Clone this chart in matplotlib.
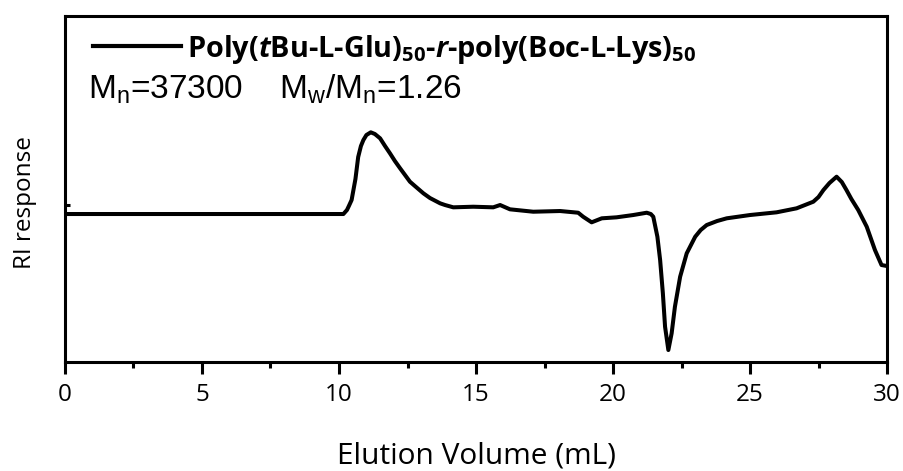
import matplotlib
matplotlib.use("Agg")
import matplotlib.pyplot as plt
from matplotlib.lines import Line2D

# GPC trace: elution volume (mL) vs. refractive-index response (arbitrary units)
elution_ml = [0.0, 5.0, 10.0, 10.16, 10.29, 10.36, 10.46, 10.6, 10.7, 10.8, 10.89,
              11.0, 11.16, 11.31, 11.5, 11.68, 11.86, 12.04, 12.23, 12.41, 12.59,
              12.77, 13.08, 13.32, 13.69, 13.87, 14.17, 14.9, 15.63, 15.88, 16.24,
              17.09, 18.07, 18.73, 18.91, 19.22, 19.59, 20.13, 20.74, 21.23, 21.38,
              21.47, 21.62, 21.72, 21.82, 21.9, 22.02, 22.14, 22.26, 22.45, 22.69,
              23.0, 23.2, 23.42, 23.8, 24.15, 25.0, 25.97, 26.7, 27.31, 27.5,
              27.68, 27.9, 28.16, 28.35, 28.52, 28.7, 28.95, 29.26, 29.56, 29.8,
              30.0]
ri_response = [0.0, 0.0, 0.0, 0.0, 4.0, 8.0, 14.0, 35.0, 57.0, 68.0, 74.0,
               79.0, 81.7, 80.0, 75.7, 68.0, 60.7, 53.0, 45.7, 39.0, 32.3,
               28.0, 20.7, 16.0, 10.7, 9.0, 6.7, 7.3, 6.7, 9.0, 4.7,
               2.3, 3.0, 1.3, -2.7, -8.3, -4.3, -3.3, -1.0, 1.3, 0.0,
               -2.7, -22.7, -46.0, -79.3, -112.7, -136.0, -119.3, -92.7, -62.7, -39.3,
               -22.7, -16.0, -11.0, -7.0, -4.3, -1.0, 1.7, 5.7, 12.3, 17.0,
               24.0, 31.0, 37.3, 32.0, 24.0, 15.0, 4.0, -12.7, -36.0, -51.0,
               -52.0]

x_major_ticks = [0, 5, 10, 15, 20, 25, 30]
x_minor_ticks = [2.5, 7.5, 12.5, 17.5, 22.5, 27.5]
series_label = (r"Poly($\mathbfit{t}$Bu-L-Glu)$_\mathbf{50}$-"
                r"$\mathbfit{r}$-poly(Boc-L-Lys)$_\mathbf{50}$")
mw_text = r"M$_\mathsf{n}$=37300    M$_\mathsf{w}$/M$_\mathsf{n}$=1.26"

plt.rcParams["mathtext.fontset"] = "custom"
plt.rcParams["mathtext.rm"] = "Open Sans"
plt.rcParams["mathtext.bf"] = "Open Sans:bold"
plt.rcParams["mathtext.bfit"] = "Open Sans:italic:bold"
plt.rcParams["mathtext.sf"] = "Liberation Sans"
plt.rcParams["font.family"] = ["Open Sans", "DejaVu Sans"]

fig = plt.figure(figsize=(9.04, 4.71), dpi=100)
ax = fig.add_axes([0.0719, 0.232, 0.9093, 0.734])

ax.plot(elution_ml, ri_response, color="black", lw=2.9,
        solid_joinstyle="round", solid_capstyle="round")

ax.set_xlim(0, 30)
ax.set_ylim(-147.7, 198)

for side in ax.spines.values():
    side.set_linewidth(2.2)

ax.set_xticks(x_major_ticks)
ax.set_xticks(x_minor_ticks, minor=True)
ax.tick_params(axis="x", which="major", direction="out", length=8.5, width=2.2,
               labelsize=17.5, pad=7)
ax.tick_params(axis="x", which="minor", direction="out", length=4.3, width=2.2)
ax.set_yticks([9])
ax.tick_params(axis="y", which="major", direction="in", length=3.5, width=2.2,
               labelleft=False)

ax.set_xlabel("Elution Volume (mL)", fontsize=21.5)
ax.xaxis.label.set_va("baseline")
ax.xaxis.set_label_coords(0.5, -0.293)

ax.set_ylabel("RI response", fontsize=17.5)
ax.yaxis.label.set_va("center")
ax.yaxis.set_label_coords(-0.0487, 0.46)

handle = Line2D([], [], color="black", lw=3.0)
leg = ax.legend([handle], [series_label], loc="center left",
                bbox_to_anchor=(0.034, 0.9045), frameon=False, fontsize=20.8,
                borderpad=0, borderaxespad=0, handlelength=3.05, handletextpad=0.22)
for t in leg.get_texts():
    t.set_fontweight("bold")

ax.text(0.028, 0.763, mw_text, transform=ax.transAxes, fontsize=24,
        family=["Liberation Sans", "DejaVu Sans"], va="baseline", ha="left")

fig.savefig("out.png", dpi=100)
